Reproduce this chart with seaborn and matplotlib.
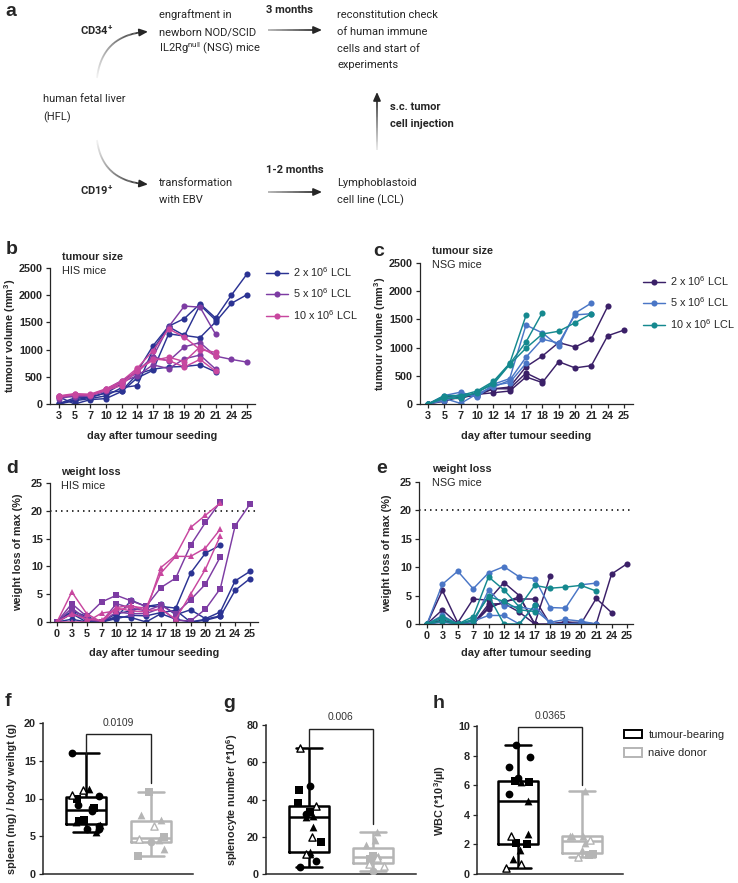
import numpy as np
import pandas as pd
import seaborn as sns
import matplotlib.pyplot as plt
from matplotlib.lines import Line2D
from matplotlib.patches import Patch
from matplotlib.collections import LineCollection

nan = np.nan

# ==================== DATA ====================
days_vol = [3, 5, 7, 10, 12, 14, 17, 18, 19, 20, 21, 24, 25]
days_wt = [0, 3, 5, 7, 10, 12, 14, 17, 18, 19, 20, 21, 24, 25]
doses = ["2 x 10$^6$ LCL", "5 x 10$^6$ LCL", "10 x 10$^6$ LCL"]

# tumour volume, HIS mice (one list per mouse)
his_vol_2 = [
    [10, 110, 130, 200, 370, 600, 1070, 1430, 1570, 1840, 1580, 2000, 2390],
    [0, 60, 100, 150, 300, 340, 1000, 1420, 1260, 1220, 1510, 1850, 2010],
    [130, 0, 80, 100, 230, 480, 620, 1290, 1250, 1820, 1540, nan, nan],
    [0, 80, 120, 210, 240, 550, 640, 680, 690, 720, 590, nan, nan],
]
his_vol_5 = [
    [100, 150, 150, 270, 430, 600, 870, 790, 1050, 1130, 880, 820, 770],
    [120, 160, 170, 250, 400, 580, 870, 1420, 1800, 1780, 1280, nan, nan],
    [150, 130, 150, 240, 400, 520, 720, 650, 830, 900, 640, nan, nan],
]
his_vol_10 = [
    [150, 190, 180, 280, 420, 660, 980, 1380, 1230, 1000, 950, nan, nan],
    [140, 180, 160, 250, 340, 640, 800, 860, 780, 1050, 880, nan, nan],
    [130, 170, 170, 270, 380, 600, 830, 800, 680, 820, 600, nan, nan],
]

# tumour volume, NSG mice
nsg_vol_2 = [
    [0, 130, 150, 170, 200, 230, 480, 380, 750, 640, 680, 1210, 1310],
    [0, 100, 100, 180, 270, 300, 660, 850, 1090, 1010, 1150, 1730, nan],
    [0, 50, 130, 150, 270, 270, 550, 410, nan, nan, nan, nan, nan],
]
nsg_vol_5 = [
    [0, 150, 210, 120, 350, 450, 1400, 1260, 1030, 1610, 1790, nan, nan],
    [0, 100, 10, 180, 300, 420, 830, 1150, 1080, 1580, 1600, nan, nan],
    [0, 60, 180, 150, 330, 380, 720, nan, nan, nan, nan, nan, nan],
]
nsg_vol_10 = [
    [0, 150, 150, 230, 400, 720, 1570, nan, nan, nan, nan, nan, nan],
    [0, 120, 130, 200, 380, 710, 1100, 1620, nan, nan, nan, nan, nan],
    [0, 100, 100, 210, 350, 700, 990, 1240, 1290, 1440, 1600, nan, nan],
]

# weight loss of max (%), HIS mice
his_wt_2 = [
    [0, 2.0, 1.0, 0, 0.8, 3.9, 2.8, 2.8, 2.5, 8.8, 12.4, 13.8, nan, nan],
    [0, 1.8, 0.4, 0, 1.5, 2.0, 2.8, 3.2, 1.3, 2.2, 0.6, 1.8, 7.4, 9.1],
    [0, 0.5, 0, 0, 1.0, 0.8, 0, 1.5, 0.5, 0, 0.3, 1.0, 5.7, 7.8],
    [0, 1.5, 0, 0, 0.6, 1.2, 1.1, 1.7, 2.1, 0, 0.5, 1.1, nan, nan],
]
his_wt_5 = [
    [0, 3.3, 1.0, 3.6, 4.8, 3.8, 2.8, 6.2, 7.9, 13.8, 17.9, 21.6, nan, nan],
    [0, 2.5, 0.5, 0, 3.3, 2.5, 2.0, 3.0, 1.5, 4.0, 6.8, 11.7, nan, nan],
    [0, 1.5, 0.8, 0, 1.8, 1.5, 1.5, 2.5, 0.3, 0.2, 2.3, 6.0, 17.3, 21.2],
]
his_wt_10 = [
    [0, 5.4, 1.5, 0, 2.5, 2.0, 1.8, 9.8, 12.0, 17.0, 19.2, 21.4, nan, nan],
    [0, 0, 0, 1.6, 2.0, 2.8, 2.5, 8.8, 11.8, 11.8, 13.3, 16.7, nan, nan],
    [0, 1.5, 0.5, 0.3, 2.6, 3.0, 2.0, 2.3, 0.5, 5.0, 9.5, 15.5, nan, nan],
]

# weight loss of max (%), NSG mice
nsg_wt_2 = [
    [0, 5.9, 0.2, 4.4, 4.2, 7.3, 5.0, 0, 0, 0.3, 0.3, 0, 8.8, 10.6],
    [0, 2.5, 0, 0, 2.7, 4.0, 4.4, 4.4, 0, 0.4, 0, 4.5, 2.0, nan],
    [0, 0.7, 0, 0, 3.5, 3.6, 2.1, 0, 8.4, nan, nan, nan, nan, nan],
    [0, 0.5, 0, 0, 3.0, 3.8, 4.8, 0, nan, nan, nan, nan, nan, nan],
]
nsg_wt_5 = [
    [0, 7.0, 9.3, 6.2, 9.0, 10.1, 8.3, 8.0, 2.9, 2.8, 6.9, 7.2, nan, nan],
    [0, 1.5, 0, 0, 6.0, 3.2, 3.0, 2.5, 0.3, 0.8, 0.5, 0, nan, nan],
    [0, 0.3, 0, 0.5, 1.5, 1.5, 0, 3.3, 0.1, 0, 0.2, 0, nan, nan],
]
nsg_wt_10 = [
    [0, 1.0, 0, 1.3, 8.3, 6.0, 3.0, 6.8, 6.3, 6.5, 6.8, 5.8, nan, nan],
    [0, 0.5, 0, 0.5, 5.0, 0, 0, 3.3, nan, nan, nan, nan, nan, nan],
    [0, 1.3, 0, 0.8, 4.8, 4.0, 2.5, 2.2, nan, nan, nan, nan, nan, nan],
]

# end-point organ / blood data (shape code: o, s, ^ filled, open = open triangle)
groups = ["tumour-bearing", "naive donor"]
spleen_tb = [5.5, 5.9, 6.0, 6.3, 6.5, 6.9, 7.0, 7.2, 8.3, 8.7, 8.8, 9.2, 10.0, 10.3, 10.5, 11.1, 11.2, 16.0]
spleen_tb_shape = ["^", "o", "o", "o", "^", "^", "s", "s", "o", "s", "o", "o", "s", "o", "open", "open", "^", "o"]
spleen_nd = [2.4, 3.3, 4.2, 4.5, 4.7, 4.9, 6.4, 7.2, 7.8, 10.9]
spleen_nd_shape = ["s", "^", "o", "^", "open", "s", "open", "^", "^", "s"]

spleno_tb = [3.5, 7, 10.5, 10.5, 12, 17, 20, 25, 30.5, 31, 32, 33.5, 36.5, 38, 45, 47, 67.5]
spleno_tb_shape = ["o", "o", "open", "^", "^", "s", "open", "^", "^", "^", "o", "s", "open", "s", "s", "o", "open"]
spleno_nd = [1.5, 4.5, 5.5, 8, 8.5, 9.5, 9.5, 15.5, 18.5, 22.5]
spleno_nd_shape = ["o", "open", "open", "s", "open", "^", "s", "^", "^", "^"]

wbc_tb = [0.4, 0.7, 1.0, 1.6, 2.0, 2.1, 2.6, 2.7, 4.9, 5.4, 6.2, 6.2, 6.3, 6.5, 7.2, 7.9, 8.7]
wbc_tb_shape = ["open", "open", "^", "^", "s", "s", "open", "^", "^", "o", "^", "s", "s", "o", "o", "o", "o"]
wbc_nd = [1.15, 1.3, 1.35, 1.6, 2.1, 2.3, 2.6, 2.6, 2.6, 5.6]
wbc_nd_shape = ["open", "s", "s", "^", "^", "open", "^", "^", "^", "^"]

p_values = ["0.0109", "0.006", "0.0365"]

# ==================== STYLE ====================
sns.set_style("ticks")
plt.rcParams["font.family"] = ["Liberation Sans", "DejaVu Sans"]
plt.rcParams["mathtext.default"] = "regular"
plt.rcParams["axes.linewidth"] = 0.9
plt.rcParams["xtick.major.width"] = 0.9
plt.rcParams["ytick.major.width"] = 0.9
plt.rcParams["xtick.major.size"] = 3
plt.rcParams["ytick.major.size"] = 3
plt.rcParams["xtick.major.pad"] = 2
plt.rcParams["ytick.major.pad"] = 2

W, H = 738, 883
fig = plt.figure(figsize=(W / 100, H / 100), dpi=100)
FS = 7.8


def add_ax(l, t, r, b):
    return fig.add_axes([l / W, 1 - b / H, (r - l) / W, (b - t) / H])


def ftext(x, y, s, **kw):
    kw.setdefault("va", "center")
    fig.text(x / W, 1 - y / H, s, **kw)


def to_long(group_lists):
    rows = []
    for dose, mice in zip(doses, group_lists):
        for m, vals in enumerate(mice):
            for i, v in enumerate(vals):
                if not np.isnan(v):
                    rows.append((dose, f"{dose}-{m}", i, v))
    return pd.DataFrame(rows, columns=["dose", "mouse", "pos", "value"])


def style_axis(ax, days, xlim, ylim, yticks):
    ax.set_xlim(*xlim)
    ax.set_ylim(*ylim)
    ax.set_xticks(range(len(days)))
    ax.set_xticklabels(days, fontsize=FS, fontweight="bold")
    ax.set_yticks(yticks)
    ax.set_yticklabels(yticks, fontsize=FS, fontweight="bold")
    sns.despine(ax=ax)
    ax.set_xlabel("")
    ax.set_ylabel("")


def ylab(ax, text, x_px, box):
    l, t, r, b = box
    ax.set_ylabel(text, fontsize=FS, fontweight="bold")
    ax.yaxis.set_label_coords((x_px - l) / (r - l), 0.5)


def xlab(ax, text, y_px, box):
    l, t, r, b = box
    ax.set_xlabel(text, fontsize=FS, fontweight="bold")
    ax.xaxis.set_label_coords(0.5, (b - y_px) / (b - t))


# ==================== PANEL a ====================
ax_a = add_ax(0, 0, 738, 225)
ax_a.set_xlim(0, 738)
ax_a.set_ylim(225, 0)
ax_a.axis("off")
DARK = "#262626"
A_FS = 8.0
afont = ["Roboto", "DejaVu Sans"]


def atext(x, y, s, bold=False):
    ax_a.text(x, y, s, fontsize=A_FS, family=afont, color=DARK,
              fontweight="bold" if bold else "normal", va="center", ha="left")


def grad_curve(p0, pc, p1, a0=0.05):
    t = np.linspace(0, 1, 60)[:, None]
    p0, pc, p1 = map(np.array, (p0, pc, p1))
    pts = (1 - t) ** 2 * p0 + 2 * (1 - t) * t * pc + t ** 2 * p1
    segs = np.stack([pts[:-1], pts[1:]], axis=1)
    alphas = np.linspace(a0, 1, len(segs))
    cols = [(0.15, 0.15, 0.15, a) for a in alphas]
    ax_a.add_collection(LineCollection(segs, colors=cols, linewidths=1.3))
    d = p1 - pc
    d = d / np.hypot(*d)
    ax_a.annotate("", xy=p1 + d * 4, xytext=p1 - d * 1,
                  arrowprops=dict(arrowstyle="-|>,head_length=0.5,head_width=0.22",
                                  color=DARK, lw=1.2, shrinkA=0, shrinkB=0))


ax_a.text(5, 12, "a", fontsize=14, fontweight="bold", va="center", ha="left")
atext(80, 30, "CD34$^{+}$", bold=True)
atext(80, 190, "CD19$^{+}$", bold=True)
atext(43, 99, "human fetal liver")
atext(43, 117, "(HFL)")
atext(159, 15, "engraftment in")
atext(159, 32, "newborn NOD/SCID")
atext(159, 48, "IL2Rg$^{null}$ (NSG) mice")
atext(266, 10, "3 months", bold=True)
atext(337, 15, "reconstitution check")
atext(337, 32, "of human immune")
atext(337, 49, "cells and start of")
atext(337, 65, "experiments")
atext(159, 183, "transformation")
atext(159, 200, "with EBV")
atext(266, 170, "1-2 months", bold=True)
atext(337, 183, "Lymphoblastoid")
atext(337, 200, "cell line (LCL)")
atext(390, 107, "s.c. tumor", bold=True)
atext(390, 124, "cell injection", bold=True)

grad_curve((97, 78), (102, 36), (144, 32))
grad_curve((97, 140), (102, 180), (144, 184))
grad_curve((268, 30), (293, 30), (318, 30), a0=0.35)
grad_curve((268, 192), (293, 192), (318, 192), a0=0.35)
grad_curve((377, 150), (377, 122), (377, 96), a0=0.1)

# ==================== PANELS b, c (tumour size) ====================
pal_his = dict(zip(doses, ["#2b3393", "#7d3ca3", "#c8479f"]))
pal_nsg = dict(zip(doses, ["#3b2068", "#4a76c6", "#15898f"]))

box_b = (50, 268, 255, 404)
box_c = (420, 263, 633, 404)
box_d = (50, 483, 258, 622)
box_e = (419, 482, 633, 624)

for box, data, pal, xl, letter in [
    (box_b, [his_vol_2, his_vol_5, his_vol_10], pal_his, (-0.574, 12.51), "b"),
    (box_c, [nsg_vol_2, nsg_vol_5, nsg_vol_10], pal_nsg, (-0.49, 12.55), "c"),
]:
    ax = add_ax(*box)
    df = to_long(data)
    sns.lineplot(data=df, x="pos", y="value", hue="dose", units="mouse",
                 estimator=None, palette=pal, hue_order=doses, marker="o",
                 markersize=4.4, markeredgewidth=0, linewidth=1.05,
                 legend=False, ax=ax, sort=True)
    style_axis(ax, days_vol, xl, (0, 2500), [0, 500, 1000, 1500, 2000, 2500])
    ylab(ax, "tumour volume (mm$^3$)", box[0] - 32, box)
    xlab(ax, "day after tumour seeding", 431, box)
    handles = [Line2D([], [], color=pal[d], marker="o", ms=4.4, mew=0, lw=1.05) for d in doses]
    anchor_x = 266 if letter == "b" else 643
    anchor_y = 265 if letter == "b" else 274
    fig.legend(handles, doses, loc="upper left",
               bbox_to_anchor=(anchor_x / W, 1 - anchor_y / H), frameon=False,
               fontsize=FS, handlelength=2.0, handletextpad=0.5, labelspacing=0.7,
               borderpad=0, borderaxespad=0)

ftext(6, 250, "b", fontsize=14, fontweight="bold")
ftext(62, 257, "tumour size", fontsize=FS, fontweight="bold")
ftext(62, 271, "HIS mice", fontsize=FS)
ftext(373, 251, "c", fontsize=14, fontweight="bold")
ftext(432, 251, "tumour size", fontsize=FS, fontweight="bold")
ftext(432, 265, "NSG mice", fontsize=FS)

# ==================== PANELS d, e (weight loss) ====================
for box, data, pal, xl, markers in [
    (box_d, [his_wt_2, his_wt_5, his_wt_10], pal_his, (-0.47, 13.54),
     dict(zip(doses, ["o", "s", "^"]))),
    (box_e, [nsg_wt_2, nsg_wt_5, nsg_wt_10], pal_nsg, (-0.52, 13.39),
     dict(zip(doses, ["o", "o", "o"]))),
]:
    ax = add_ax(*box)
    df = to_long(data)
    ax.axhline(20, color="black", lw=1.1, ls=(0, (1, 2.6)), zorder=0)
    sns.lineplot(data=df, x="pos", y="value", hue="dose", units="mouse",
                 style="dose", markers=markers, dashes=False,
                 estimator=None, palette=pal, hue_order=doses, style_order=doses,
                 markersize=4.4, markeredgewidth=0, linewidth=1.05,
                 legend=False, ax=ax)
    style_axis(ax, days_wt, xl, (0, 25), [0, 5, 10, 15, 20, 25])
    ylab(ax, "weight loss of max (%)", box[0] - 27, box)
    xlab(ax, "day after tumour seeding", 648, box)

ftext(6, 468, "d", fontsize=14, fontweight="bold")
ftext(61, 472, "weight loss", fontsize=FS, fontweight="bold")
ftext(61, 486, "HIS mice", fontsize=FS)
ftext(376, 469, "e", fontsize=14, fontweight="bold")
ftext(432, 469, "weight loss", fontsize=FS, fontweight="bold")
ftext(432, 483, "NSG mice", fontsize=FS)

# ==================== PANELS f, g, h (box plots) ====================
box_pal = {"tumour-bearing": "black", "naive donor": "#b5b5b5"}
np.random.seed(4)


def box_panel(box, tb, tb_shape, nd, nd_shape, xl, ylim, yticks, ylabel, ylab_x, pval, bracket):
    ax = add_ax(*box)
    df = pd.DataFrame({
        "group": [groups[0]] * len(tb) + [groups[1]] * len(nd),
        "value": tb + nd,
        "shape": tb_shape + nd_shape,
    })
    sns.boxplot(data=df, x="group", y="value", hue="group", order=groups, hue_order=groups,
                palette=box_pal, fill=False, whis=(0, 100), width=0.62, linewidth=1.8,
                showfliers=False, legend=False, capwidths=0.4, ax=ax)
    for g in groups:
        col = box_pal[g]
        for shp in ["o", "s", "^", "open"]:
            sub = df[(df["group"] == g) & (df["shape"] == shp)]
            if sub.empty:
                continue
            if shp == "open":
                sns.stripplot(data=sub, x="group", y="value", order=groups, color="white",
                              edgecolor=col, linewidth=1.0, marker="^", size=5.2,
                              jitter=0.22, ax=ax, zorder=3)
            else:
                sns.stripplot(data=sub, x="group", y="value", order=groups, color=col,
                              linewidth=0, marker=shp, size=5.6 if shp != "s" else 5.2,
                              jitter=0.22, ax=ax, zorder=3)
    ax.set_xlim(*xl)
    ax.set_ylim(*ylim)
    ax.set_xticks([])
    ax.set_yticks(yticks)
    ax.set_yticklabels(yticks, fontsize=FS, fontweight="bold")
    sns.despine(ax=ax)
    ax.spines["left"].set_linewidth(1.1)
    ax.spines["bottom"].set_linewidth(1.1)
    ax.set_xlabel("")
    ylab(ax, ylabel, ylab_x, box)
    y_left, y_top, y_right = bracket
    ax.plot([0, 0, 1, 1], [y_left, y_top, y_top, y_right], color="#222222", lw=1.0,
            solid_joinstyle="miter")
    ax.text(0.5, y_top + (ylim[1] - ylim[0]) * 0.045, pval, ha="center", va="bottom",
            fontsize=7.4, color="#333333")
    return ax


box_panel((43, 723, 193, 874), spleen_tb, spleen_tb_shape, spleen_nd, spleen_nd_shape,
          (-0.66, 1.65), (0, 20), [0, 5, 10, 15, 20],
          "spleen (mg) / body weihgt (g)", 17, p_values[0], (15.8, 18.5, 12.0))
box_panel((266, 725, 416, 874), spleno_tb, spleno_tb_shape, spleno_nd, spleno_nd_shape,
          (-0.67, 1.67), (0, 80), [0, 20, 40, 60, 80],
          "splenocyte number (*10$^6$)", 240, p_values[1], (68.0, 77.8, 27.0))
box_panel((477, 726, 623, 874), wbc_tb, wbc_tb_shape, wbc_nd, wbc_nd_shape,
          (-0.64, 1.64), (0, 10), [0, 2, 4, 6, 8, 10],
          "WBC (*10$^3$/µl)", 448, p_values[2], (8.8, 9.9, 6.0))

leg_handles = [Patch(facecolor="white", edgecolor=box_pal[g], lw=1.4) for g in groups]
fig.legend(leg_handles, groups, loc="upper left", bbox_to_anchor=(624 / W, 1 - 730 / H),
           frameon=False, fontsize=8, handlelength=1.6, handleheight=0.75,
           handletextpad=0.6, labelspacing=0.75, borderpad=0, borderaxespad=0)

ftext(5, 702, "f", fontsize=14, fontweight="bold")
ftext(223, 703, "g", fontsize=14, fontweight="bold")
ftext(433, 703, "h", fontsize=14, fontweight="bold")

fig.savefig("out.png", dpi=100)
